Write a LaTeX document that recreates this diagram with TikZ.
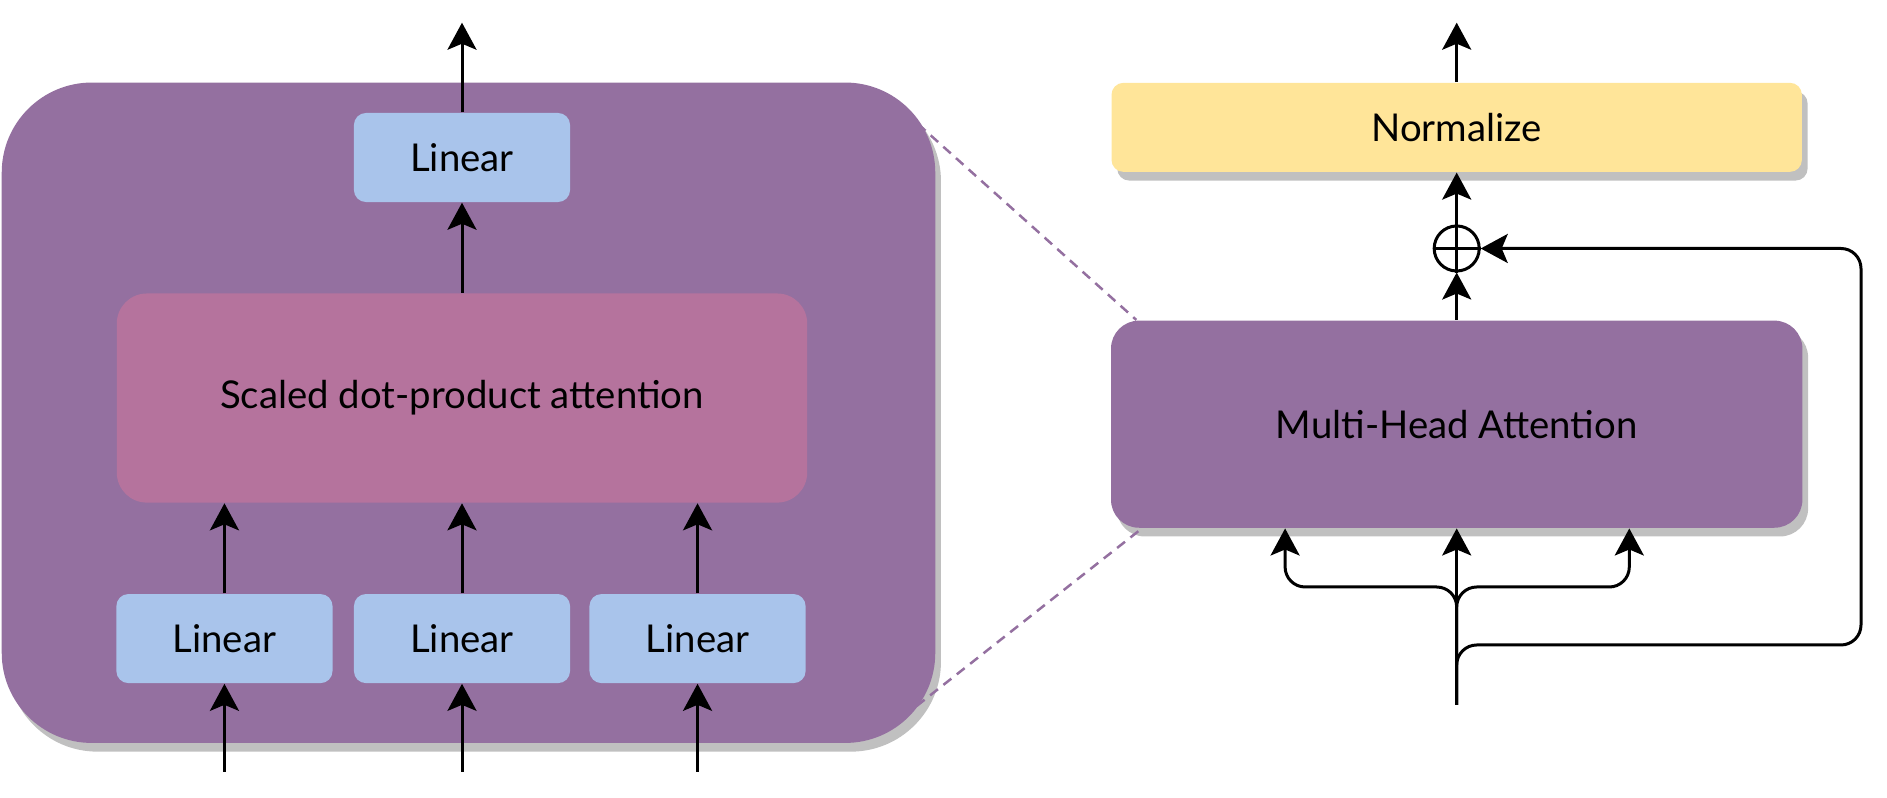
\documentclass[tikz,border=0pt]{standalone}
\usepackage{fontspec}
\setmainfont{Lato}
\usepackage{xcolor}
\usepackage{tikz}
\usetikzlibrary{positioning, arrows.meta, shadows}

\definecolor{headpurple}{HTML}{9470A0}
\definecolor{attnpink}{HTML}{B5739D}
\definecolor{linblue}{HTML}{A9C4EB}
\definecolor{normyellow}{HTML}{FFE599}
\definecolor{shadowgray}{HTML}{C0C0C0}

\begin{document}
\begin{tikzpicture}[
  x=0.01cm, y=-0.01cm,
  font=\fontsize{10.9pt}{13pt}\selectfont,
  boxshadow/.style={drop shadow={shadow xshift=0.057cm, shadow yshift=-0.087cm, fill=shadowgray, opacity=1}},
  outer/.style={fill=headpurple, rectangle, rounded corners=0.9cm, minimum width=9.33cm, minimum height=6.6cm, boxshadow},
  linear/.style={fill=linblue, rectangle, rounded corners=0.12cm, minimum width=2.16cm, minimum height=0.89cm},
  sdpa/.style={fill=attnpink, rectangle, rounded corners=0.3cm, minimum width=6.9cm, minimum height=2.09cm},
  norm/.style={fill=normyellow, rectangle, rounded corners=0.12cm, minimum width=6.9cm, minimum height=0.89cm, boxshadow},
  mha/.style={fill=headpurple, rectangle, rounded corners=0.28cm, minimum width=6.91cm, minimum height=2.07cm, boxshadow},
  addop/.style={draw, circle, line width=0.03cm, minimum size=0.45cm, inner sep=0pt},
  arr/.style={-{Stealth[length=0.27cm, width=0.29cm, inset=0.06cm]}, line width=0.03cm},
  zoom/.style={headpurple, dashed, dash pattern=on 0.1cm off 0.07cm, line width=0.025cm}
]
\useasboundingbox (0,0) rectangle (1887,798);

% Multi-head attention, expanded
\node[outer] (Head) at (468.5,412.75) {};
\node[linear] (LinOut) at (462,157.5) {Linear};
\node[sdpa, below=0.9cm of LinOut] (Sdpa) {Scaled dot-product attention};
\node[linear, below=0.9cm of Sdpa] (LinK) {Linear};
\node[linear, left=0.2cm of LinK] (LinQ) {Linear};
\node[linear, right=0.18cm of LinK] (LinV) {Linear};

\coordinate (OutA) at (462,22.7);
\foreach \n in {LinQ, LinK, LinV}
  \coordinate (In\n) at (\n |- 0,771.7);

\draw[arr] (LinOut) -- (OutA);
\draw[arr] (Sdpa) -- (LinOut);
\foreach \n in {LinQ, LinK, LinV} {
  \draw[arr] (\n) -- (\n |- Sdpa.south);
  \draw[arr] (In\n) -- (\n);
}

% Sub-layer with residual
\node[norm] (Norm) at (1456.7,127.35) {Normalize};
\node[mha] (Mha) at (1456.7,424.2) {Multi-Head Attention};
\node[addop] (Add) at (1456.7,248.5) {};
\draw[line width=0.03cm] (Add.west) -- (Add.east) (Add.north) -- (Add.south);

\coordinate (OutB) at (1456.7,22.7);
\coordinate (InB) at (1456.7,705);
\coordinate (Split) at (1456.7,587);
\coordinate (Skip) at (1861,645);

\draw[arr] (Norm) -- (OutB);
\draw[arr] (Add.north) -- (Norm);
\draw[arr] (Mha) -- (Add.south);
\draw[arr] (InB) -- (Mha);
\draw[arr, rounded corners=0.2cm] (InB) -- (Split) -| ([xshift=-1.715cm]Mha.south);
\draw[arr, rounded corners=0.2cm] (InB) -- (Split) -| ([xshift=1.725cm]Mha.south);
\draw[arr, rounded corners=0.2cm] (InB) |- (Skip) |- (Add.east);

% Zoom lines
\coordinate (ZoomTop) at (918,124);
\coordinate (ZoomBot) at (890,727);
\draw[zoom] (ZoomTop) -- ([xshift=0.26cm]Mha.north west);
\draw[zoom] (ZoomBot) -- ([xshift=0.29cm, yshift=-0.02cm]Mha.south west);

\end{tikzpicture}
\end{document}
